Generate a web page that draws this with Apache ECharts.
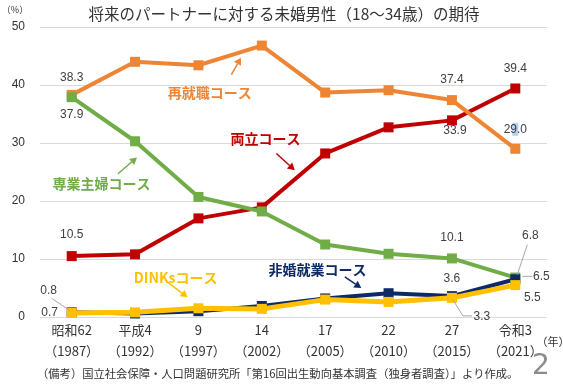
<!DOCTYPE html>
<html><head><meta charset="utf-8">
<script src="https://cdn.jsdelivr.net/npm/echarts@6/dist/echarts.min.js"></script>
<style>html,body{margin:0;padding:0;background:#fff}#c{width:563px;height:388px}</style>
</head><body><div id="c"></div>
<script>
const categories = ['昭和62\n（1987）','平成4\n（1992）','9\n（1997）','14\n（2002）','17\n（2005）','22\n（2010）','27\n（2015）','令和3\n（2021）'];
const yTicks = [0,10,20,30,40,50];
const saishushoku = [38.3, 44.0, 43.4, 46.8, 38.7, 39.1, 37.4, 29.0];
const ryoritsu   = [10.5, 10.8, 17.0, 18.9, 28.2, 32.7, 33.9, 39.4];
const sengyo     = [37.9, 30.3, 20.7, 18.2, 12.5, 10.9, 10.1, 6.8];
const hikon      = [0.8, 0.6, 1.0, 1.9, 3.2, 4.1, 3.6, 6.5];
const dinks      = [0.7, 0.8, 1.5, 1.4, 3.0, 2.6, 3.3, 5.5];

const JP = "'Noto Sans CJK JP', sans-serif";
const NUM = "'Liberation Sans', 'Noto Sans CJK JP', sans-serif";
const C = {orange:'#EE8535', red:'#C00000', green:'#70AD47', navy:'#0E2A66', yellow:'#FFC000'};

const chart = echarts.init(document.getElementById('c'));
function mk(name, data, color, w, z){
  return {name, type:'line', data, z, symbol:'rect', symbolSize:10,
    lineStyle:{color, width:w}, itemStyle:{color}, emphasis:{disabled:true}, animation:false};
}
chart.setOption({
  animation:false,
  grid:{left:40, right:16, top:27, bottom:71},
  xAxis:{type:'category', data:categories, boundaryGap:true,
    axisLine:{show:false}, axisTick:{show:false},
    axisLabel:{color:'#333', fontSize:13, fontFamily:JP, lineHeight:21, margin:3, interval:0}},
  yAxis:{type:'value', min:yTicks[0], max:yTicks[yTicks.length-1], interval:10,
    axisLine:{show:false}, axisTick:{show:false},
    splitLine:{lineStyle:{color:'#d9d9d9', width:1}},
    axisLabel:{color:'#333', fontSize:12, fontFamily:NUM, margin:15}},
  series:[
    mk('両立コース', ryoritsu, C.red, 4, 2),
    mk('再就職コース', saishushoku, C.orange, 4, 3),
    mk('専業主婦コース', sengyo, C.green, 4, 4),
    mk('非婚就業コース', hikon, C.navy, 4, 5),
    mk('DINKsコース', dinks, C.yellow, 5, 6)
  ]
});

const series = {orange:saishushoku, red:ryoritsu, green:sengyo, navy:hikon, yellow:dinks};
function P(i, v){ return chart.convertToPixel({xAxisIndex:0, yAxisIndex:0}, [i, v]); }
const x0 = P(0,0)[0], dxc = P(1,0)[0]-x0;
function D(fi, v){ return [x0 + fi*dxc, P(0, v)[1]]; }

const g = [];
function text(x, y, t, style){
  g.push({type:'text', x, y, z:100, style:Object.assign({text:t, align:'center', verticalAlign:'middle'}, style)});
}
function line(pts, color, w){
  g.push({type:'polyline', z:99, shape:{points:pts}, style:{stroke:color, lineWidth:w, fill:null}});
}
function arrow(a, b, color){
  const ang = Math.atan2(b[1]-a[1], b[0]-a[0]);
  const L = 7, W = 4;
  const bx = b[0]-L*Math.cos(ang), by = b[1]-L*Math.sin(ang);
  line([a, [bx,by]], color, 1.5);
  g.push({type:'polygon', z:99, shape:{points:[b,
    [bx + W*Math.sin(ang), by - W*Math.cos(ang)],
    [bx - W*Math.sin(ang), by + W*Math.cos(ang)]]}, style:{fill:color}});
}

// data labels
const lab = {fontSize:12, fontFamily:NUM, fill:'#404040'};
const labels = [
  ['orange',0,0,-17], ['green',0,0,18], ['red',0,0,-21],
  ['navy',0,-23,-22], ['yellow',0,-22,0],
  ['orange',6,0,-20], ['red',7,0,-20], ['red',6,3,10], ['orange',7,0,-19],
  ['green',6,0,-21], ['green',7,15,-42], ['navy',7,26,-3], ['navy',6,0,-17],
  ['yellow',7,17,13], ['yellow',6,30,19]
];
for (const [s,i,dx,dy] of labels){
  const p = P(i, series[s][i]);
  text(p[0]+dx, p[1]+dy, series[s][i].toFixed(1), lab);
}
// leader lines
const gray = '#a6a6a6';
{ const p = P(0, hikon[0]); line([[p[0]-20, p[1]-14],[p[0]-2, p[1]-2]], gray, 1); }
{ const p = P(7, sengyo[7]); line([[p[0]+12, p[1]-33],[p[0]+2, p[1]-3]], gray, 1); }
{ const p = P(7, hikon[7]); line([[p[0]+7, p[1]-3],[p[0]+17, p[1]-3]], gray, 1); }
{ const p = P(6, dinks[6]); line([[p[0]+1, p[1]+2],[p[0]+11, p[1]+18],[p[0]+20, p[1]+18]], gray, 1); }
// highlight artifact on 29.0
{ const p = P(7, saishushoku[7]); g.push({type:'rect', z:98, shape:{x:p[0]-3, y:p[1]-26, width:6, height:13}, style:{fill:'rgba(120,170,220,0.55)'}}); }

// series name annotations
const ann = {fontSize:14, fontWeight:'bold', fontFamily:JP};
function annotate(t, color, c, a, b){
  const tp = D(c[0], c[1]);
  text(tp[0], tp[1], t, Object.assign({fill:color}, ann));
  arrow(D(a[0], a[1]), D(b[0], b[1]), color);
}
annotate('再就職コース', C.orange, [2.18, 38.7], [2.52, 41.8], [2.67, 44.7]);
annotate('両立コース', C.red, [3.06, 30.8], [3.23, 28.2], [3.52, 25.3]);
annotate('専業主婦コース', C.green, [0.47, 22.9], [0.73, 24.7], [1.03, 27.5]);
annotate('DINKsコース', C.yellow, [1.64, 6.7], [1.51, 6.0], [1.83, 3.4]);
annotate('非婚就業コース', C.navy, [3.88, 8.1], [4.31, 6.9], [4.57, 5.0]);

// titles and notes
text(284, 14, '将来のパートナーに対する未婚男性（18～34歳）の期待', {fontSize:15.5, fontFamily:JP, fill:'#333'});
text(15, 10, '（%）', {fontSize:9, fontFamily:JP, fill:'#333'});
text(553, 342, '（年）', {fontSize:11, fontFamily:JP, fill:'#333'});
g.push({type:'text', x:37, y:374, z:100, style:{text:'（備考）国立社会保障・人口問題研究所「第16回出生動向基本調査（独身者調査）」より作成。', fontSize:11.3, fontFamily:JP, fill:'#333', align:'left', verticalAlign:'middle'}});
text(541, 367, '2', {fontSize:28, fontFamily:"'DejaVu Sans', sans-serif", fill:'#8c8c8c'});

chart.setOption({graphic:g});
</script></body></html>
